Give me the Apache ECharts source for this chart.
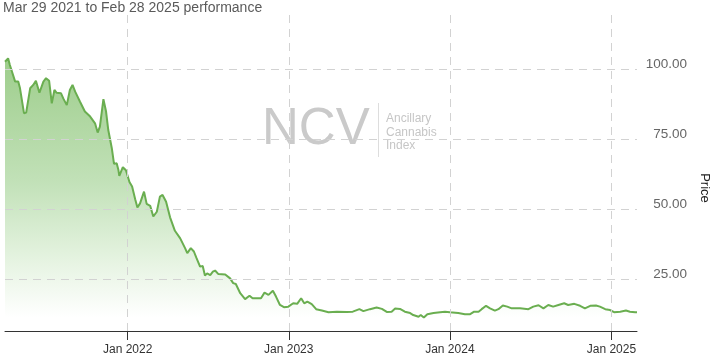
<!DOCTYPE html>
<html>
<head>
<meta charset="utf-8">
<style>
  html, body { margin: 0; padding: 0; background: #fff; }
  #chart { width: 715px; height: 360px; }
</style>
<script src="https://cdn.jsdelivr.net/npm/echarts@6/dist/echarts.min.js"></script>
</head>
<body>
<div id="chart"></div>
<script>
const titleText = 'Mar 29 2021 to Feb 28 2025 performance';
const dates = [
  '2021-03-29','2021-04-05','2021-04-09','2021-04-21','2021-04-28','2021-05-02','2021-05-11','2021-05-16','2021-05-25','2021-06-01',
  '2021-06-07','2021-06-15','2021-06-24','2021-06-30','2021-07-07','2021-07-13','2021-07-19','2021-07-24','2021-07-28','2021-08-03',
  '2021-08-08','2021-08-16','2021-08-23','2021-08-29','2021-09-04','2021-09-15','2021-09-26','2021-10-08','2021-10-19','2021-10-25',
  '2021-10-30','2021-11-07','2021-11-13','2021-11-18','2021-11-26','2021-12-01','2021-12-07','2021-12-11','2021-12-13','2021-12-21',
  '2021-12-28','2022-01-05','2022-01-11','2022-01-18','2022-01-23','2022-01-29','2022-02-07','2022-02-13','2022-02-21','2022-02-28',
  '2022-03-08','2022-03-15','2022-03-21','2022-03-29','2022-04-07','2022-04-18','2022-04-30','2022-05-11','2022-05-16','2022-05-24',
  '2022-05-31','2022-06-06','2022-06-14','2022-06-20','2022-06-25','2022-06-30','2022-07-07','2022-07-13','2022-07-18','2022-07-25',
  '2022-07-29','2022-08-10','2022-08-21','2022-08-28','2022-09-03','2022-09-13','2022-09-24','2022-10-04','2022-10-11','2022-10-24',
  '2022-10-30','2022-11-07','2022-11-16','2022-11-26','2022-12-03','2022-12-12','2022-12-21','2022-12-31','2023-01-11','2023-01-20',
  '2023-01-29','2023-02-05','2023-02-12','2023-02-22','2023-03-04','2023-03-17','2023-04-01','2023-04-20','2023-05-12','2023-05-26',
  '2023-06-10','2023-06-19','2023-07-04','2023-07-19','2023-07-31','2023-08-11','2023-08-22','2023-08-30','2023-09-10','2023-09-21',
  '2023-10-03','2023-10-10','2023-10-22','2023-10-27','2023-11-03','2023-11-11','2023-11-25','2023-12-10','2023-12-21','2024-01-01',
  '2024-01-20','2024-02-04','2024-02-16','2024-02-25','2024-03-06','2024-03-13','2024-03-23','2024-04-01','2024-04-12','2024-04-20',
  '2024-04-30','2024-05-10','2024-05-20','2024-06-08','2024-06-27','2024-07-08','2024-07-20','2024-07-31','2024-08-11','2024-08-22',
  '2024-09-03','2024-09-16','2024-09-25','2024-10-09','2024-10-22','2024-11-02','2024-11-14','2024-11-27','2024-12-06','2024-12-18',
  '2024-12-29','2025-01-07','2025-01-21','2025-02-03','2025-02-12','2025-02-24','2025-02-28'
];
const prices = [
  102.6,103.8,101.4,95.5,95.5,93.1,84.2,84.4,93.1,94.3,
  95.8,91.5,95.5,96.7,95.8,87.7,92.5,91.5,91.3,91.3,
  89.5,87.1,92.5,94.3,91.9,88.3,84.8,83.0,80.6,77.3,
  79.4,89.2,84.8,78.2,71.7,66.1,66.3,63.9,61.8,64.9,
  63.8,59.6,58.0,53.5,50.5,52.0,56.2,51.8,51.1,47.3,
  49.0,54.4,55.0,52.6,47.0,42.2,39.5,36.0,34.2,36.0,
  34.8,32.4,29.4,29.6,26.2,27.0,26.4,27.6,28.0,26.8,
  26.8,26.6,25.2,23.5,23.2,19.9,17.8,19.0,18.1,18.1,
  18.1,20.1,19.3,20.8,18.7,15.7,14.9,15.1,16.3,16.1,
  18.1,16.3,16.9,16.0,14.2,13.7,13.1,13.3,13.2,13.3,
  14.2,13.5,14.2,14.8,14.3,13.2,13.3,14.4,14.3,13.3,
  12.8,12.1,11.5,12.1,11.2,12.4,12.8,13.1,13.3,13.1,
  12.8,12.4,12.4,13.3,13.3,14.2,15.4,14.5,13.7,14.2,
  15.5,15.1,14.5,14.5,14.2,15.1,15.6,14.5,15.7,15.1,
  15.7,16.3,15.7,16.1,15.4,14.5,15.4,15.5,15.1,14.2,
  13.9,13.1,13.3,13.7,13.3,13.1,13.1
];
const xTickDates = ['2022-01-01', '2023-01-01', '2024-01-01', '2025-01-01'];
const xTickLabels = ['Jan 2022', 'Jan 2023', 'Jan 2024', 'Jan 2025'];
const yTickValues = [25, 50, 75, 100];
const xStart = '2021-03-29';
const xEnd = '2025-02-28';
const yMin = 6.4;
const yMax = 120;

function ts(d) { return Date.UTC(+d.slice(0, 4), +d.slice(5, 7) - 1, +d.slice(8, 10)); }
const xTickTs = xTickDates.map(ts);
const seriesData = dates.map((d, i) => [ts(d), prices[i]]);

const chart = echarts.init(document.getElementById('chart'), null, { renderer: 'canvas' });
const gridDash = { color: '#d2d2d2', type: [8, 6], width: 1 };

chart.setOption({
  animation: false,
  backgroundColor: '#ffffff',
  title: {
    text: titleText,
    left: 3, top: 0, padding: 0,
    textStyle: { fontFamily: 'Liberation Sans, Arial, sans-serif', fontSize: 14, fontWeight: 'normal', color: '#5a5a5a', lineHeight: 16 }
  },
  grid: { left: 5, right: 78, top: 13, bottom: 29, containLabel: false, outerBoundsMode: 'none' },
  xAxis: {
    type: 'value',
    min: ts(xStart), max: ts(xEnd),
    axisLine: { show: true, lineStyle: { color: '#333', width: 1 } },
    axisTick: { show: true, customValues: xTickTs, length: 9, lineStyle: { color: '#333' } },
    axisLabel: {
      customValues: xTickTs,
      margin: 13,
      fontFamily: 'Liberation Sans, Arial, sans-serif', fontSize: 12, color: '#333',
      formatter: function (v) {
        const i = xTickTs.indexOf(v);
        return i >= 0 ? xTickLabels[i] : '';
      }
    },
    splitLine: { show: false }
  },
  yAxis: {
    type: 'value',
    position: 'right',
    min: yMin, max: yMax,
    minInterval: 25, maxInterval: 25,
    name: 'Price', nameLocation: 'middle', nameRotate: -90, nameGap: 47,
    nameTextStyle: { fontFamily: 'Liberation Sans, Arial, sans-serif', fontSize: 13, color: '#222', padding: [0, 0, 0, 32] },
    axisLine: { show: false },
    axisTick: { show: false },
    splitLine: { show: false },
    axisLabel: {
      customValues: yTickValues,
      align: 'right', verticalAlign: 'bottom', lineHeight: 9, margin: 50,
      fontFamily: 'Liberation Sans, Arial, sans-serif', fontSize: 13.5, color: '#666',
      formatter: function (v) { return yTickValues.indexOf(v) >= 0 ? v.toFixed(2) : ''; }
    }
  },
  graphic: [
    { type: 'text', left: 262, top: 104, z: 0, silent: true,
      style: { text: 'NCV', fontFamily: 'Liberation Sans, Arial, sans-serif', fontSize: 51, fill: '#cacaca' } },
    { type: 'line', z: 0, silent: true, shape: { x1: 378.5, y1: 103, x2: 378.5, y2: 157 }, style: { stroke: '#dddddd', lineWidth: 1 } },
    { type: 'text', left: 386, top: 112, z: 0, silent: true,
      style: { text: 'Ancillary\nCannabis\nIndex', fontFamily: 'Liberation Sans, Arial, sans-serif', fontSize: 12, lineHeight: 13.5, fill: '#c6c6c6' } }
  ],
  series: [{
    type: 'line',
    data: seriesData,
    showSymbol: false,
    symbol: 'none',
    smooth: false,
    lineStyle: { color: '#6aae50', width: 2 },
    itemStyle: { color: '#6aae50' },
    areaStyle: {
      origin: 'start',
      color: new echarts.graphic.LinearGradient(0, 0, 0, 1, [
        { offset: 0, color: '#74b85a' },
        { offset: 0.45, color: '#a7d499' },
        { offset: 0.75, color: '#dcefd6' },
        { offset: 0.95, color: '#ffffff' },
        { offset: 1, color: '#ffffff' }
      ])
    },
    markLine: {
      silent: true,
      symbol: 'none',
      label: { show: false },
      animation: false,
      lineStyle: gridDash,
      emphasis: { disabled: true },
      data: xTickTs.map(t => ({ xAxis: t })).concat(yTickValues.map(v => ({ yAxis: v })))
    }
  }]
});
</script>
</body>
</html>
